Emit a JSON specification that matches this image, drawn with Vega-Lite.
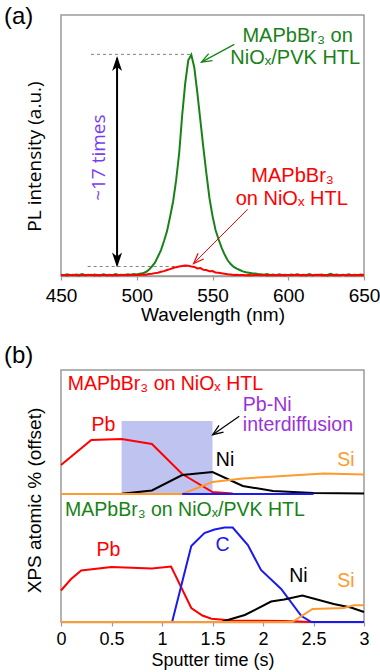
{
  "$schema": "https://vega.github.io/schema/vega-lite/v6.json",
  "background": "white",
  "padding": {"left": 3, "top": 4, "right": 0, "bottom": 0},
  "autosize": {"type": "pad"},
  "config": {
    "font": "Liberation Sans",
    "view": {"stroke": "#9a9a9a", "strokeWidth": 1.5},
    "axis": {
      "grid": false,
      "domainColor": "#9a9a9a",
      "domainWidth": 1.5,
      "tickColor": "#9a9a9a",
      "tickWidth": 1.2,
      "labelFont": "Liberation Sans",
      "labelFontSize": 19,
      "labelColor": "black",
      "titleFont": "Liberation Sans",
      "titleFontSize": 19,
      "titleFontWeight": "normal",
      "titleColor": "black"
    },
    "title": {"font": "Liberation Sans", "fontSize": 24, "fontWeight": "normal", "color": "black"}
  },
  "datasets": {
    "pl": [
      {"w":450,"g":0.006,"r":0.003},{"w":452,"g":0.004,"r":0.005},{"w":454,"g":0.008,"r":0.002},{"w":456,"g":0.005,"r":0.004},
      {"w":458,"g":0.003,"r":0.006},{"w":460,"g":0.007,"r":0.003},{"w":462,"g":0.005,"r":0.002},{"w":464,"g":0.009,"r":0.005},
      {"w":466,"g":0.004,"r":0.003},{"w":468,"g":0.006,"r":0.004},{"w":470,"g":0.003,"r":0.006},{"w":472,"g":0.007,"r":0.002},
      {"w":474,"g":0.005,"r":0.004},{"w":476,"g":0.004,"r":0.003},{"w":478,"g":0.008,"r":0.005},{"w":480,"g":0.005,"r":0.002},
      {"w":482,"g":0.006,"r":0.004},{"w":484,"g":0.004,"r":0.003},{"w":486,"g":0.009,"r":0.005},{"w":488,"g":0.005,"r":0.003},
      {"w":490,"g":0.006,"r":0.004},{"w":492,"g":0.004,"r":0.006},{"w":494,"g":0.008,"r":0.003},{"w":496,"g":0.006,"r":0.005},
      {"w":498,"g":0.009,"r":0.004},{"w":500,"g":0.007,"r":0.006},{"w":502,"g":0.010,"r":0.005},{"w":504,"g":0.012,"r":0.007},
      {"w":506,"g":0.018,"r":0.006},{"w":508,"g":0.028,"r":0.009},{"w":510,"g":0.043,"r":0.010},{"w":512,"g":0.060,"r":0.013},
      {"w":514,"g":0.088,"r":0.015},{"w":516,"g":0.117,"r":0.019},{"w":518,"g":0.158,"r":0.022},{"w":520,"g":0.203,"r":0.027},
      {"w":522,"g":0.268,"r":0.031},{"w":524,"g":0.337,"r":0.036},{"w":526,"g":0.433,"r":0.040},{"w":528,"g":0.555,"r":0.043},
      {"w":530,"g":0.728,"r":0.045},{"w":532,"g":0.872,"r":0.047},{"w":534,"g":0.975,"r":0.046},{"w":536,"g":1.0,"r":0.043},
      {"w":538,"g":0.942,"r":0.041},{"w":540,"g":0.828,"r":0.034},{"w":542,"g":0.703,"r":0.036},{"w":544,"g":0.578,"r":0.028},
      {"w":546,"g":0.462,"r":0.027},{"w":548,"g":0.352,"r":0.021},{"w":550,"g":0.272,"r":0.022},{"w":552,"g":0.208,"r":0.016},
      {"w":554,"g":0.166,"r":0.015},{"w":556,"g":0.128,"r":0.012},{"w":558,"g":0.097,"r":0.010},{"w":560,"g":0.071,"r":0.008},
      {"w":562,"g":0.054,"r":0.007},{"w":564,"g":0.041,"r":0.005},{"w":566,"g":0.033,"r":0.006},{"w":568,"g":0.027,"r":0.004},
      {"w":570,"g":0.021,"r":0.005},{"w":572,"g":0.017,"r":0.003},{"w":574,"g":0.015,"r":0.005},{"w":576,"g":0.012,"r":0.003},
      {"w":578,"g":0.011,"r":0.004},{"w":580,"g":0.009,"r":0.006},{"w":582,"g":0.008,"r":0.003},{"w":584,"g":0.006,"r":0.005},
      {"w":586,"g":0.009,"r":0.002},{"w":588,"g":0.005,"r":0.004},{"w":590,"g":0.007,"r":0.003},{"w":592,"g":0.004,"r":0.005},
      {"w":594,"g":0.008,"r":0.003},{"w":596,"g":0.005,"r":0.004},{"w":598,"g":0.006,"r":0.002},{"w":600,"g":0.004,"r":0.005},
      {"w":602,"g":0.007,"r":0.003},{"w":604,"g":0.005,"r":0.004},{"w":606,"g":0.008,"r":0.006},{"w":608,"g":0.004,"r":0.003},
      {"w":610,"g":0.006,"r":0.004},{"w":612,"g":0.005,"r":0.002},{"w":614,"g":0.009,"r":0.005},{"w":616,"g":0.004,"r":0.003},
      {"w":618,"g":0.006,"r":0.004},{"w":620,"g":0.005,"r":0.006},{"w":622,"g":0.007,"r":0.003},{"w":624,"g":0.004,"r":0.004},
      {"w":626,"g":0.006,"r":0.002},{"w":628,"g":0.010,"r":0.005},{"w":630,"g":0.005,"r":0.003},{"w":632,"g":0.007,"r":0.004},
      {"w":634,"g":0.004,"r":0.003},{"w":636,"g":0.006,"r":0.005},{"w":638,"g":0.005,"r":0.002},{"w":640,"g":0.008,"r":0.004},
      {"w":642,"g":0.004,"r":0.003},{"w":644,"g":0.006,"r":0.005},{"w":646,"g":0.005,"r":0.003},{"w":648,"g":0.007,"r":0.004},
      {"w":650,"g":0.005,"r":0.003}
    ],
    "plGuides": [
      {"w":469.8,"w2":535.8,"y":1.002},
      {"w":467.6,"w2":533.6,"y":0.043}
    ],
    "plRatio": [{"w":487,"y":0.985,"y2":0.048}],
    "plRatioTop": [{"w":487,"y":0.995}],
    "plRatioBottom": [{"w":487,"y":0.038}],
    "plPointerPVK": [{"w":564.4,"y":1.047,"w2":542.7,"y2":0.967}],
    "plPointerNiOx": [{"w":573.2,"y":0.3015,"w2":537.5,"y2":0.0565}],
    "plLabels": [
      {"w":606.2,"y":1.058,"label":"MAPbBr₃ on","k":"PVK"},
      {"w":604.6,"y":0.960,"label":"NiOₓ/PVK HTL","k":"PVK"},
      {"w":602.9,"y":0.425,"label":"MAPbBr₃","k":"NiOx"},
      {"w":602.3,"y":0.320,"label":"on NiOₓ HTL","k":"NiOx"}
    ],
    "plRatioLabel": [{"w":475.3,"y":0.535,"label":"~17 times"}],
    "xps": [
      {"t":0,"v":157,"el":"Pb","s":"NiOx"},{"t":0.3,"v":182,"el":"Pb","s":"NiOx"},{"t":0.6,"v":183,"el":"Pb","s":"NiOx"},
      {"t":0.9,"v":178,"el":"Pb","s":"NiOx"},{"t":1.2,"v":148,"el":"Pb","s":"NiOx"},{"t":1.5,"v":130,"el":"Pb","s":"NiOx"},
      {"t":1.7,"v":128.5,"el":"Pb","s":"NiOx"},
      {"t":0.6,"v":128.3,"el":"Ni","s":"NiOx"},{"t":0.9,"v":131.5,"el":"Ni","s":"NiOx"},{"t":1.2,"v":147,"el":"Ni","s":"NiOx"},
      {"t":1.5,"v":150,"el":"Ni","s":"NiOx"},{"t":1.8,"v":136,"el":"Ni","s":"NiOx"},{"t":2.1,"v":131,"el":"Ni","s":"NiOx"},
      {"t":2.5,"v":129,"el":"Ni","s":"NiOx"},{"t":3,"v":128.5,"el":"Ni","s":"NiOx"},
      {"t":0,"v":128,"el":"Si","s":"NiOx"},{"t":1.2,"v":128,"el":"Si","s":"NiOx"},{"t":1.5,"v":140,"el":"Si","s":"NiOx"},
      {"t":1.8,"v":143.5,"el":"Si","s":"NiOx"},{"t":2.2,"v":146,"el":"Si","s":"NiOx"},{"t":2.6,"v":148.5,"el":"Si","s":"NiOx"},
      {"t":3,"v":147.5,"el":"Si","s":"NiOx"},
      {"t":1.2,"v":128,"el":"C","s":"NiOx"},{"t":2.5,"v":128,"el":"C","s":"NiOx"},
      {"t":0,"v":31.5,"el":"Pb","s":"PVK"},{"t":0.1,"v":43,"el":"Pb","s":"PVK"},{"t":0.2,"v":51.5,"el":"Pb","s":"PVK"},
      {"t":0.5,"v":55,"el":"Pb","s":"PVK"},{"t":0.9,"v":53.5,"el":"Pb","s":"PVK"},{"t":1.09,"v":55.5,"el":"Pb","s":"PVK"},
      {"t":1.29,"v":14,"el":"Pb","s":"PVK"},{"t":1.4,"v":6.5,"el":"Pb","s":"PVK"},{"t":1.49,"v":3.3,"el":"Pb","s":"PVK"},
      {"t":1.7,"v":1.5,"el":"Pb","s":"PVK"},{"t":2.2,"v":1,"el":"Pb","s":"PVK"},{"t":2.48,"v":0,"el":"Pb","s":"PVK"},
      {"t":1.1,"v":0,"el":"C","s":"PVK"},{"t":1.29,"v":76,"el":"C","s":"PVK"},{"t":1.42,"v":89,"el":"C","s":"PVK"},
      {"t":1.52,"v":92.5,"el":"C","s":"PVK"},{"t":1.62,"v":94.5,"el":"C","s":"PVK"},{"t":1.7,"v":94.5,"el":"C","s":"PVK"},
      {"t":1.85,"v":77,"el":"C","s":"PVK"},{"t":1.98,"v":52,"el":"C","s":"PVK"},{"t":2.18,"v":33,"el":"C","s":"PVK"},
      {"t":2.38,"v":6,"el":"C","s":"PVK"},{"t":2.48,"v":0,"el":"C","s":"PVK"},{"t":3,"v":0,"el":"C","s":"PVK"},
      {"t":1.6,"v":0.5,"el":"Ni","s":"PVK"},{"t":1.82,"v":7,"el":"Ni","s":"PVK"},{"t":2.08,"v":20.5,"el":"Ni","s":"PVK"},
      {"t":2.21,"v":22.5,"el":"Ni","s":"PVK"},{"t":2.39,"v":26.5,"el":"Ni","s":"PVK"},{"t":2.7,"v":18,"el":"Ni","s":"PVK"},
      {"t":2.87,"v":14.5,"el":"Ni","s":"PVK"},{"t":3,"v":10,"el":"Ni","s":"PVK"},
      {"t":0,"v":0,"el":"Si","s":"PVK"},{"t":2.29,"v":0,"el":"Si","s":"PVK"},{"t":2.49,"v":13,"el":"Si","s":"PVK"},
      {"t":2.8,"v":14,"el":"Si","s":"PVK"},{"t":2.9,"v":16.7,"el":"Si","s":"PVK"},{"t":3,"v":16.7,"el":"Si","s":"PVK"}
    ],
    "xpsZone": [{"t":0.6,"t2":1.5,"v":128,"v2":201}],
    "xpsPointer": [{"t":1.765,"v":205.7,"t2":1.502,"v2":187.3}],
    "xpsTitles": [
      {"t":0.066,"v":232.3,"label":"MAPbBr₃ on NiOₓ HTL","k":"NiOx"},
      {"t":0.04,"v":105.7,"label":"MAPbBr₃ on NiOₓ/PVK HTL","k":"PVK"},
      {"t":1.80,"v":211.3,"label":"Pb-Ni","k":"diff"},
      {"t":1.80,"v":190.7,"label":"interdiffusion","k":"diff"}
    ],
    "xpsLabels": [
      {"t":0.42,"v":190.7,"label":"Pb","k":"Pb"},
      {"t":1.624,"v":156.3,"label":"Ni","k":"Ni"},
      {"t":2.82,"v":156.3,"label":"Si","k":"Si"},
      {"t":0.47,"v":66.3,"label":"Pb","k":"Pb"},
      {"t":1.60,"v":71.3,"label":"C","k":"C"},
      {"t":2.35,"v":39.7,"label":"Ni","k":"Ni"},
      {"t":2.82,"v":34.7,"label":"Si","k":"Si"}
    ]
  },
  "resolve": {"scale": {"x": "independent", "y": "independent", "color": "independent"}},
  "spacing": 18,
  "vconcat": [
    {
      "width": 303,
      "height": 261,
      "title": {"text": "(a)", "anchor": "start", "frame": "group", "dx": -57, "offset": -14},
      "encoding": {
        "x": {"type": "quantitative", "title": "Wavelength (nm)",
              "scale": {"domain": [450, 650]},
              "axis": {"values": [450, 500, 550, 600, 650], "tickSize": 4, "labelPadding": 6, "titlePadding": 0, "labelFlush": false}},
        "y": {"type": "quantitative", "title": "PL intensity (a.u.)",
              "scale": {"domain": [0, 1.18]},
              "axis": {"labels": false, "ticks": false, "domain": false, "titleFont": "Open Sans", "titlePadding": 17, "titleY": 141}}
      },
      "layer": [
        {"data": {"name": "plGuides"}, "mark": {"type": "rule", "color": "#808080", "strokeWidth": 1, "strokeDash": [3, 3]},
         "encoding": {"x": {"field": "w"}, "x2": {"field": "w2"}, "y": {"field": "y"}}},
        {"data": {"name": "pl"}, "mark": {"type": "line", "color": "#188218", "strokeWidth": 2},
         "encoding": {"x": {"field": "w"}, "y": {"field": "g"}}},
        {"data": {"name": "pl"}, "mark": {"type": "line", "color": "#ff0000", "strokeWidth": 2},
         "encoding": {"x": {"field": "w"}, "y": {"field": "r"}}},
        {"data": {"name": "plRatio"}, "mark": {"type": "rule", "color": "black", "strokeWidth": 2},
         "encoding": {"x": {"field": "w"}, "y": {"field": "y"}, "y2": {"field": "y2"}}},
        {"data": {"name": "plRatioTop"}, "mark": {"type": "point", "shape": "M0,0L-1,3L0,2.2L1,3Z", "filled": true, "color": "black", "size": 100, "angle": 0, "opacity": 1},
         "encoding": {"x": {"field": "w"}, "y": {"field": "y"}}},
        {"data": {"name": "plRatioBottom"}, "mark": {"type": "point", "shape": "M0,0L-1,3L0,2.2L1,3Z", "filled": true, "color": "black", "size": 100, "angle": 180, "opacity": 1},
         "encoding": {"x": {"field": "w"}, "y": {"field": "y"}}},
        {"data": {"name": "plPointerPVK"}, "mark": {"type": "rule", "color": "#188218", "strokeWidth": 1.3},
         "encoding": {"x": {"field": "w"}, "y": {"field": "y"}, "x2": {"field": "w2"}, "y2": {"field": "y2"}}},
        {"data": {"name": "plPointerPVK"}, "mark": {"type": "point", "shape": "M-1,2.6L0,0L1,2.6", "filled": false, "color": "#188218", "strokeWidth": 1.3, "size": 64, "angle": 241.6, "opacity": 1},
         "encoding": {"x": {"field": "w2"}, "y": {"field": "y2"}}},
        {"data": {"name": "plPointerNiOx"}, "mark": {"type": "rule", "color": "#ff0000", "strokeWidth": 1},
         "encoding": {"x": {"field": "w"}, "y": {"field": "y"}, "x2": {"field": "w2"}, "y2": {"field": "y2"}}},
        {"data": {"name": "plPointerNiOx"}, "mark": {"type": "point", "shape": "M-1,2.6L0,0L1,2.6", "filled": false, "color": "#ff0000", "strokeWidth": 1.2, "size": 64, "angle": 225, "opacity": 1},
         "encoding": {"x": {"field": "w2"}, "y": {"field": "y2"}}},
        {"data": {"name": "plLabels"}, "mark": {"type": "text", "fontSize": 20, "align": "center", "baseline": "alphabetic"},
         "encoding": {"x": {"field": "w"}, "y": {"field": "y"}, "text": {"field": "label"},
                      "color": {"field": "k", "type": "nominal", "legend": null,
                                "scale": {"domain": ["PVK", "NiOx"], "range": ["#188218", "#ff0000"]}}}},
        {"data": {"name": "plRatioLabel"}, "mark": {"type": "text", "fontSize": 19, "font": "Open Sans", "align": "center", "baseline": "middle", "angle": 270, "color": "#7a3cf0"},
         "encoding": {"x": {"field": "w"}, "y": {"field": "y"}, "text": {"field": "label"}}}
      ]
    },
    {
      "width": 303,
      "height": 252,
      "title": {"text": "(b)", "anchor": "start", "frame": "group", "dx": -57, "offset": 2},
      "encoding": {
        "x": {"type": "quantitative", "title": "Sputter time (s)",
              "scale": {"domain": [0, 3]},
              "axis": {"values": [0, 0.5, 1, 1.5, 2, 2.5, 3], "format": "~g", "tickSize": 4, "labelPadding": 4, "titlePadding": 3, "labelFlush": false, "labelFontSize": 18, "titleFontSize": 18}},
        "y": {"type": "quantitative", "title": "XPS atomic % (offset)",
              "scale": {"domain": [0, 252]},
              "axis": {"labels": false, "ticks": false, "domain": false, "titlePadding": 17, "titleY": 130}}
      },
      "layer": [
        {"data": {"name": "xpsZone"}, "mark": {"type": "rect", "color": "#bcc0ef", "opacity": 0.95},
         "encoding": {"x": {"field": "t"}, "x2": {"field": "t2"}, "y": {"field": "v"}, "y2": {"field": "v2"}}},
        {"data": {"name": "xps"}, "mark": {"type": "line", "strokeWidth": 2},
         "encoding": {"x": {"field": "t"}, "y": {"field": "v"}, "detail": {"field": "s"},
                      "color": {"field": "el", "type": "nominal", "legend": null,
                                "scale": {"domain": ["Pb", "Ni", "Si", "C", "NiOx", "PVK", "diff"],
                                          "range": ["#ff0000", "#000000", "#ff9a2e", "#1a1af0", "#ff0000", "#188218", "#9a32d8"]}}}},
        {"data": {"name": "xpsPointer"}, "mark": {"type": "rule", "color": "black", "strokeWidth": 1.2},
         "encoding": {"x": {"field": "t"}, "y": {"field": "v"}, "x2": {"field": "t2"}, "y2": {"field": "v2"}}},
        {"data": {"name": "xpsPointer"}, "mark": {"type": "point", "shape": "M-1,2.6L0,0L1,2.6", "filled": false, "color": "black", "strokeWidth": 1.3, "size": 64, "angle": 235.3, "opacity": 1},
         "encoding": {"x": {"field": "t2"}, "y": {"field": "v2"}}},
        {"data": {"name": "xpsTitles"}, "mark": {"type": "text", "fontSize": 19.5, "align": "left", "baseline": "alphabetic"},
         "encoding": {"x": {"field": "t"}, "y": {"field": "v"}, "text": {"field": "label"},
                      "color": {"field": "k", "type": "nominal", "legend": null,
                                "scale": {"domain": ["Pb", "Ni", "Si", "C", "NiOx", "PVK", "diff"],
                                          "range": ["#ff0000", "#000000", "#ff9a2e", "#1a1af0", "#ff0000", "#188218", "#9a32d8"]}}}},
        {"data": {"name": "xpsLabels"}, "mark": {"type": "text", "fontSize": 19.5, "align": "center", "baseline": "alphabetic"},
         "encoding": {"x": {"field": "t"}, "y": {"field": "v"}, "text": {"field": "label"},
                      "color": {"field": "k", "type": "nominal", "legend": null,
                                "scale": {"domain": ["Pb", "Ni", "Si", "C", "NiOx", "PVK", "diff"],
                                          "range": ["#ff0000", "#000000", "#ff9a2e", "#1a1af0", "#ff0000", "#188218", "#9a32d8"]}}}}
      ]
    }
  ]
}
